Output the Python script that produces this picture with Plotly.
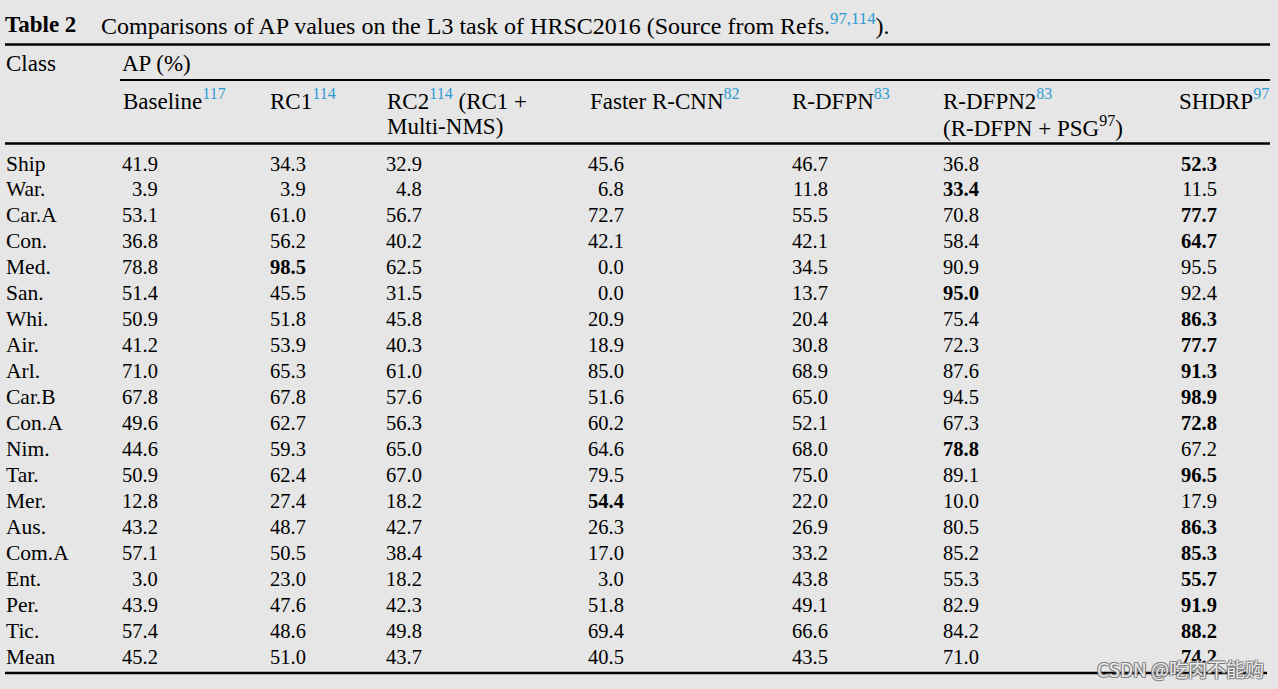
import plotly.graph_objects as go

# ---------------- data ----------------
title_bold = "Table 2"
title_text = "Comparisons of AP values on the L3 task of HRSC2016 (Source from Refs."
title_refs = "97,114"
title_tail = ")."

group_header = "AP (%)"
first_col_header = "Class"

methods = ["Baseline", "RC1", "RC2", "Faster R-CNN", "R-DFPN", "R-DFPN2", "SHDRP"]
method_refs = ["117", "114", "114", "82", "83", "83", "97"]
method_line1_tail = ["", "", " (RC1 +", "", "", "", ""]
method_line2 = ["", "", "Multi-NMS)", "", "", "(R-DFPN + PSG<sup>97</sup>)", ""]

classes = ["Ship", "War.", "Car.A", "Con.", "Med.", "San.", "Whi.", "Air.", "Arl.", "Car.B",
           "Con.A", "Nim.", "Tar.", "Mer.", "Aus.", "Com.A", "Ent.", "Per.", "Tic.", "Mean"]

baseline = [41.9, 3.9, 53.1, 36.8, 78.8, 51.4, 50.9, 41.2, 71.0, 67.8,
            49.6, 44.6, 50.9, 12.8, 43.2, 57.1, 3.0, 43.9, 57.4, 45.2]
rc1 = [34.3, 3.9, 61.0, 56.2, 98.5, 45.5, 51.8, 53.9, 65.3, 67.8,
       62.7, 59.3, 62.4, 27.4, 48.7, 50.5, 23.0, 47.6, 48.6, 51.0]
rc2 = [32.9, 4.8, 56.7, 40.2, 62.5, 31.5, 45.8, 40.3, 61.0, 57.6,
       56.3, 65.0, 67.0, 18.2, 42.7, 38.4, 18.2, 42.3, 49.8, 43.7]
faster_rcnn = [45.6, 6.8, 72.7, 42.1, 0.0, 0.0, 20.9, 18.9, 85.0, 51.6,
               60.2, 64.6, 79.5, 54.4, 26.3, 17.0, 3.0, 51.8, 69.4, 40.5]
r_dfpn = [46.7, 11.8, 55.5, 42.1, 34.5, 13.7, 20.4, 30.8, 68.9, 65.0,
          52.1, 68.0, 75.0, 22.0, 26.9, 33.2, 43.8, 49.1, 66.6, 43.5]
r_dfpn2 = [36.8, 33.4, 70.8, 58.4, 90.9, 95.0, 75.4, 72.3, 87.6, 94.5,
           67.3, 78.8, 89.1, 10.0, 80.5, 85.2, 55.3, 82.9, 84.2, 71.0]
shdrp = [52.3, 11.5, 77.7, 64.7, 95.5, 92.4, 86.3, 77.7, 91.3, 98.9,
         72.8, 67.2, 96.5, 17.9, 86.3, 85.3, 55.7, 91.9, 88.2, 74.2]

# index of the bold (best) method in each row
bold_col = [6, 5, 6, 6, 1, 5, 6, 6, 6, 6, 6, 5, 6, 3, 6, 6, 6, 6, 6, 6]

watermark = "CSDN @吃肉不能购"

series = [baseline, rc1, rc2, faster_rcnn, r_dfpn, r_dfpn2, shdrp]

# ---------------- layout constants ----------------
W, H = 1278, 689
BG = "#e6e6e6"
REF_COLOR = "#2f9bd3"
FONT = "Liberation Serif, Times New Roman, serif"
FS_TITLE_BOLD = 23
FS_TITLE = 24
FS_HEAD = 23
FS_CLASS = 21.5
FS_VAL = 20.5

header_left_x = [123, 270, 387, 590, 792, 943, 1179]
value_right_x = [158, 306, 422, 624, 828, 979, 1217]
class_x = 6
row_y0 = 163.5
row_dy = 25.95

fig = go.Figure()
anns = []


def add_text(x, y, text, size, xanchor="left"):
    anns.append(dict(x=x, y=y, xref="x", yref="y", text=text, showarrow=False,
                     xanchor=xanchor, yanchor="middle", align=xanchor,
                     borderpad=0, borderwidth=0,
                     font=dict(family=FONT, size=size, color="#000000")))


def ref(s):
    return f"<span style='color:{REF_COLOR}'><sup>{s}</sup></span>"


# title
add_text(5, 24, f"<b>{title_bold}</b>", FS_TITLE_BOLD)
add_text(101, 23.5, f"{title_text}{ref(title_refs)}{title_tail}", FS_TITLE)

# header
add_text(class_x, 63.5, first_col_header, FS_HEAD)
add_text(header_left_x[0] - 1, 63.5, group_header, FS_HEAD)
for i, m in enumerate(methods):
    add_text(header_left_x[i], 99.5, f"{m}{ref(method_refs[i])}{method_line1_tail[i]}", FS_HEAD)
    if method_line2[i]:
        add_text(header_left_x[i], 126.5, method_line2[i], FS_HEAD)

# body
for r, c in enumerate(classes):
    y = row_y0 + r * row_dy
    add_text(class_x, y, c, FS_CLASS)
    for j, s in enumerate(series):
        txt = f"{s[r]:.1f}"
        if bold_col[r] == j:
            txt = f"<b>{txt}</b>"
        add_text(value_right_x[j], y, txt, FS_VAL, xanchor="right")

# watermark
anns.append(dict(x=1266, y=668, xref="x", yref="y", text=watermark, showarrow=False,
                 xanchor="right", yanchor="middle",
                 font=dict(family="Noto Sans CJK SC, Noto Sans, sans-serif", size=19,
                           color="rgba(255,255,255,0.85)",
                           shadow="1px 1px 0px #7a7a7a, -1px -1px 0px #7a7a7a, 1px -1px 0px #7a7a7a, -1px 1px 0px #7a7a7a")))

# rules
shapes = [
    dict(type="line", x0=5, x1=1270, y0=44.5, y1=44.5, line=dict(color="black", width=2.5)),
    dict(type="line", x0=120, x1=1270, y0=80, y1=80, line=dict(color="black", width=2)),
    dict(type="line", x0=5, x1=1270, y0=143.5, y1=143.5, line=dict(color="black", width=2.5)),
    dict(type="line", x0=5, x1=1267, y0=673, y1=673, line=dict(color="black", width=2.5)),
]
for s in shapes:
    s.update(xref="x", yref="y", layer="below")

fig.update_layout(
    width=W, height=H,
    margin=dict(l=0, r=0, t=0, b=0, pad=0),
    paper_bgcolor=BG, plot_bgcolor=BG,
    xaxis=dict(range=[0, W], visible=False, fixedrange=True),
    yaxis=dict(range=[H, 0], visible=False, fixedrange=True),
    annotations=anns, shapes=shapes, showlegend=False,
)

fig.write_html("out.html", config={"displayModeBar": False},
               post_script="document.body.style.margin='0';document.body.style.overflow='hidden';")
